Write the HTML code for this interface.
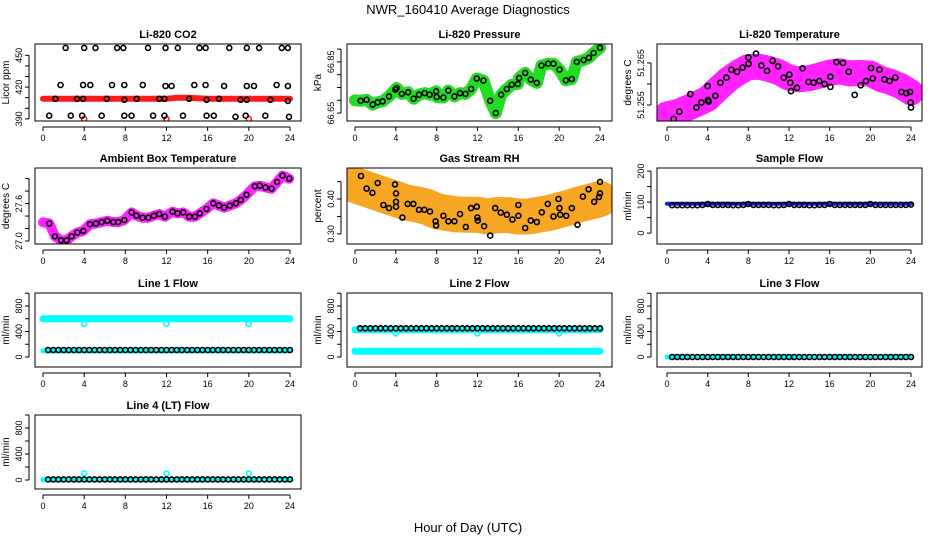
<!DOCTYPE html>
<html><head><meta charset="utf-8"><title>NWR_160410 Average Diagnostics</title>
<style>
html,body{margin:0;padding:0;background:#fff;}
svg{display:block;font-family:"Liberation Sans",Arial,sans-serif;}
</style></head>
<body>
<svg id="chart" width="936" height="540" viewBox="0 0 936 540" xmlns="http://www.w3.org/2000/svg">
<rect width="936" height="540" fill="#fff"/>
<text x="468" y="14" text-anchor="middle" font-size="13">NWR_160410  Average Diagnostics</text>
<text x="468" y="532" text-anchor="middle" font-size="13">Hour of Day (UTC)</text>
<g id="panels"></g>
</svg>
<script>
// ---- shared x data ----
const halfHours = [0.5,1,1.5,2,2.5,3,3.5,4,4.5,5,5.5,6,6.5,7,7.5,8,8.5,9,9.5,10,10.5,11,11.5,12,12.5,13,13.5,14,14.5,15,15.5,16,16.5,17,17.5,18,18.5,19,19.5,20,20.5,21,21.5,22,22.5,23,23.5,24];
const xTicks = [0,4,8,12,16,20,24];
const calHours = [4,12,20];

// ---- CO2 ----
const co2Hours = [2.2,4.0,5.1,7.2,7.8,10.2,11.9,13.1,15.2,15.8,18.1,19.8,21.0,23.2,23.8,
 1.7,3.9,4.6,6.7,7.9,9.7,11.9,12.5,14.7,15.8,17.6,19.8,20.5,22.7,23.8,
 1.2,3.3,3.9,6.2,7.9,9.1,11.3,11.8,14.2,15.9,17.1,19.2,19.8,22.1,23.8,
 0.6,2.7,3.8,5.7,7.9,8.6,10.7,11.8,13.6,15.9,16.6,18.7,19.7,21.6,23.9];
const co2Values = [457,457,457,457,457,457,457,457,457,457,457,457,457,457,457,
 422,422,422,422,422,422,421,421,422,422,421,421,421,422,421,
 409,409,409,409,408,409,409,409,409,408,409,408,408,408,407,
 393,393,393,393,393,393,393,393,393,393,393,392,393,393,392];
const co2BandHours = [0,4,8,12,13,14,16,20,24];
const co2BandValues = [409,409,409,409,410,410,409,409,409];
const co2CalValues = [390,390,390];

// ---- Pressure ----
const presHours = [0.56,1.14,1.73,2.22,2.71,3.33,3.95,4.08,4.58,5.2,5.75,6.27,6.83,7.32,7.94,8.0,8.66,9.15,9.74,10.29,10.82,11.37,11.93,12.58,13.24,13.79,14.31,14.87,15.36,15.95,16.08,16.67,17.22,17.81,18.27,18.92,19.44,20.03,20.65,21.24,21.73,22.39,22.91,23.37,24.0];
const presValues = [66.698,66.702,66.683,66.692,66.696,66.715,66.742,66.748,66.725,66.731,66.706,66.722,66.728,66.722,66.735,66.713,66.711,66.738,66.715,66.728,66.725,66.744,66.785,66.777,66.698,66.65,66.722,66.744,66.761,66.764,66.787,66.807,66.781,66.768,66.836,66.843,66.843,66.82,66.778,66.783,66.85,66.857,66.866,66.885,66.905];

// ---- Li-820 temperature ----
const ltHours = [0.66,1.21,2.3,2.89,3.38,4.0,4.03,4.1,4.75,5.25,5.84,6.33,6.89,7.44,8.0,8.03,8.75,9.28,9.84,10.39,10.92,11.48,12.03,12.13,12.2,12.79,13.34,13.93,14.43,14.98,15.51,16.07,16.07,16.66,17.31,17.87,18.46,19.05,19.57,20.07,20.23,20.89,21.38,21.9,22.46,23.05,23.54,23.9,23.97,24.0];
const ltValues = [51.2517,51.2534,51.2576,51.2544,51.2556,51.2595,51.2562,51.2558,51.2572,51.2603,51.2615,51.2634,51.2629,51.2639,51.2663,51.2648,51.2672,51.2644,51.2631,51.2655,51.2642,51.2615,51.2622,51.2603,51.2583,51.2591,51.2637,51.2605,51.2603,51.2607,51.2600,51.2617,51.2593,51.2652,51.2650,51.2629,51.2574,51.2597,51.2607,51.2638,51.2613,51.2634,51.2611,51.2607,51.2615,51.2581,51.2578,51.2581,51.2556,51.2544];
const ltBandHours = [0,1,2,3,4,5,6,7,8,9,10,11,12,13,14,15,16,17,18,19,20,21,22,23,24];
const ltBandValues = [51.2528,51.2533,51.2543,51.2553,51.2565,51.2588,51.2610,51.2627,51.2640,51.2641,51.2636,51.2628,51.2615,51.2611,51.2614,51.2620,51.2627,51.2630,51.2625,51.2626,51.2625,51.2612,51.2605,51.2595,51.2580];

// ---- Ambient box temperature ----
const ambHours = [0,0.61,1.17,1.75,2.3,2.78,3.33,3.92,4.56,5.15,5.7,6.25,6.83,7.31,7.9,8.61,9.09,9.68,10.23,10.78,11.29,11.84,12.59,13.07,13.62,14.21,14.76,15.24,15.89,16.54,17.09,17.6,18.16,18.74,19.22,19.77,20.58,21.07,21.62,22.2,22.75,23.27,23.92];
const ambValues = [27.30,27.281,27.076,27.011,27.011,27.076,27.135,27.162,27.27,27.281,27.303,27.324,27.303,27.303,27.335,27.459,27.405,27.373,27.373,27.405,27.432,27.389,27.47,27.443,27.459,27.389,27.389,27.443,27.514,27.605,27.568,27.535,27.568,27.605,27.659,27.741,27.876,27.886,27.859,27.838,27.946,28.049,27.999];

// ---- Gas stream RH ----
const rhHours = [0.59,1.14,1.7,2.22,2.78,3.33,3.92,4.02,4.02,4.02,4.64,5.16,5.72,6.27,6.8,7.35,7.9,7.94,8.66,9.15,9.74,10.29,10.85,11.37,11.93,11.99,12.03,12.65,13.24,13.73,14.28,14.87,15.42,16.01,16.01,16.67,17.22,17.81,18.3,18.89,19.44,19.93,20.03,20.1,20.69,21.24,21.8,22.32,22.88,23.43,24.0,24.0,23.9];
const rhValues = [0.466,0.430,0.418,0.446,0.383,0.374,0.442,0.416,0.392,0.378,0.347,0.386,0.386,0.369,0.369,0.364,0.336,0.324,0.352,0.336,0.336,0.357,0.320,0.374,0.378,0.347,0.338,0.322,0.295,0.374,0.361,0.355,0.341,0.383,0.352,0.317,0.338,0.334,0.362,0.386,0.350,0.400,0.374,0.355,0.352,0.374,0.326,0.407,0.428,0.392,0.449,0.416,0.406];
const rhBandHours = [0,1,2,3,4,5,6,7,8,9,10,11,12,13,14,15,16,17,18,19,20,21,22,23,24];
const rhBandValues = [0.44,0.43,0.42,0.41,0.40,0.39,0.385,0.378,0.365,0.36,0.356,0.355,0.355,0.35,0.354,0.354,0.35,0.35,0.355,0.36,0.368,0.375,0.385,0.392,0.40];

// ---- Flows ----
const sampleBlack = [90,90,90,90,90,90,91,94,91,91,91,91,90,90,91,94,91,91,91,91,90,90,91,94,91,91,91,90,90,91,91,94,91,91,91,91,91,91,91,94,91,91,91,91,91,91,91,92];
const sampleBlue = [95,95];
const line1Black = [110,110,110,110,110,110,110,110,110,110,110,110,110,110,110,110,110,110,110,110,110,110,110,110,110,110,110,110,110,110,110,110,110,110,110,110,110,110,110,110,110,110,110,110,110,110,110,110];
const line1Cyan = [600,600];
const line1Low = [95,95];
const line1Cal = [520,520,520];
const line2Black = [450,450,450,450,450,450,450,450,450,450,450,450,450,450,450,450,450,450,450,450,450,450,450,450,450,450,450,450,450,450,450,450,450,450,450,450,450,450,450,450,450,450,450,450,450,450,450,450];
const line2CyanHigh = [430,430];
const line2CyanLow = [90,90];
const line2Cal = [370,370,370];
const line3Black = [0,0,0,0,0,0,0,0,0,0,0,0,0,0,0,0,0,0,0,0,0,0,0,0,0,0,0,0,0,0,0,0,0,0,0,0,0,0,0,0,0,0,0,0,0,0,0,0];
const line4Black = [10,10,10,10,10,10,10,10,10,10,10,10,10,10,10,10,10,10,10,10,10,10,10,10,10,10,10,10,10,10,10,10,10,10,10,10,10,10,10,10,10,10,10,10,10,10,10,10];
const line4Cal = [100,100,100];
const bandEnds = [0,24];

const NS = "http://www.w3.org/2000/svg";
const root = document.getElementById('panels');
function el(tag, attrs, parent){
  const e = document.createElementNS(NS, tag);
  for (const k in attrs) e.setAttribute(k, attrs[k]);
  (parent||root).appendChild(e);
  return e;
}
const cols = [{l:35,r:301,x0:43,x24:290},{l:347,r:612,x0:355,x24:600},{l:657,r:922,x0:667,x24:911}];
const rows = [{t:44,b:121},{t:168,b:244},{t:293,b:367},{t:415,b:489}];

function makePanel(name, title, ylab, c, r, ymin, ymax, ticks, labels, fmt){
  const C = cols[c], R = rows[r];
  const g = el('g', {});
  
  
  const xs = h => C.x0 + (C.x24 - C.x0) * h / 24;
  const ys = v => R.b - (R.b - R.t) * (v - ymin) / (ymax - ymin);
  const clipId = 'clip-' + name;
  const cp = el('clipPath', {id: clipId}, g);
  el('rect', {x:C.l, y:R.t, width:C.r-C.l, height:R.b-R.t}, cp);
  const plot = el('g', {'clip-path':'url(#'+clipId+')'}, g);
  
  
  const frame = el('rect', {x:C.l, y:R.t, width:C.r-C.l, height:R.b-R.t, fill:'none', stroke:'#000', 'stroke-width':1}, g);
  
  
  const tt = el('text', {x:(C.l+C.r)/2, y:R.t-6, 'text-anchor':'middle', 'font-size':11, 'font-weight':'bold'}, g);
  tt.textContent = title;
  
  
  const xa = el('g', {}, g);
  
  
  const xb = R.b + 6;
  el('line', {x1:xs(0), x2:xs(24), y1:xb, y2:xb, stroke:'#000'}, xa);
  xTicks.forEach(t => {
    el('line', {x1:xs(t), x2:xs(t), y1:xb, y2:xb+4, stroke:'#000'}, xa);
    const tl = el('text', {x:xs(t), y:xb+14, 'text-anchor':'middle', 'font-size':9}, xa);
    tl.textContent = t;
    
    
  });
  const ya = el('g', {}, g);
  
  
  const yx = C.l - 6;
  const vt = ticks.filter(t => ys(t) >= R.t - 8 && ys(t) <= R.b + 8);
  el('line', {x1:yx, x2:yx, y1:ys(vt[0]), y2:ys(vt[vt.length-1]), stroke:'#000'}, ya);
  vt.forEach(t => el('line', {x1:yx-4, x2:yx, y1:ys(t), y2:ys(t), stroke:'#000'}, ya));
  labels.forEach(t => {
    const tl = el('text', {x:0, y:0, 'text-anchor':'middle', 'font-size':9, transform:'translate('+(yx-7)+','+ys(t)+') rotate(-90)'}, ya);
    tl.textContent = fmt ? fmt(t) : t;
    
    
  });
  const yl = el('text', {x:0, y:0, 'text-anchor':'middle', 'font-size':10, transform:'translate('+(C.l-26)+','+((R.t+R.b)/2)+') rotate(-90)'}, g);
  yl.textContent = ylab;
  
  
  return {plot, xs, ys};
}
function band(p, hours, vals, color, w, name){
  const pts = hours.map((h,i) => p.xs(h).toFixed(1)+','+p.ys(vals[i]).toFixed(1)).join(' ');
  const pl = el('polyline', {points:pts, fill:'none', stroke:color, 'stroke-width':w, 'stroke-linejoin':'round', 'stroke-linecap':'round'}, p.plot);
  
  
}
function pts(p, hours, vals, color, rad, name){
  hours.forEach((h,i) => {
    const c = el('circle', {cx:p.xs(h).toFixed(1), cy:p.ys(vals[i]).toFixed(1), r:rad, fill:'none', stroke:color, 'stroke-width':1.6}, p.plot);
    
    
  });
}
const f2 = v => v.toFixed(2), f3 = v => v.toFixed(3), f1 = v => v.toFixed(1);

let p = makePanel('co2', 'Li-820 CO2', 'Licor ppm', 0, 0, 388, 460.7, [390,400,410,420,430,440,450], [390,420,450]);
band(p, co2BandHours, co2BandValues, '#ff1a1a', 6, 'co2-red-band');
pts(p, calHours, co2CalValues, '#ff1a1a', 2.5, 'co2-cal-point');
pts(p, co2Hours, co2Values, '#000', 2.5, 'co2-point');

p = makePanel('pressure', 'Li-820 Pressure', 'kPa', 1, 0, 66.619, 66.92, [66.65,66.70,66.75,66.80,66.85,66.90], [66.65,66.85], f2);
band(p, [0].concat(presHours), [66.70].concat(presValues), '#22dd22', 12, 'pressure-green-band');
pts(p, presHours, presValues, '#000', 2.5, 'pressure-point');

p = makePanel('li-temp', 'Li-820 Temperature', 'degrees C', 2, 0, 51.2512, 51.2695, [51.255,51.260,51.265], [51.255,51.265], f3);
band(p, ltBandHours, ltBandValues, '#ff22ff', 26, 'li-temp-magenta-band');
pts(p, ltHours, ltValues, '#000', 2.6, 'li-temp-point');

p = makePanel('ambient', 'Ambient Box Temperature', 'degrees C', 0, 1, 26.952, 28.17, [27.0,27.2,27.4,27.6,27.8,28.0], [27.0,27.6], f1);
band(p, ambHours, ambValues, '#ff22ff', 10, 'ambient-magenta-band');
pts(p, ambHours.slice(1), ambValues.slice(1), '#000', 2.5, 'ambient-point');

p = makePanel('rh', 'Gas Stream RH', 'percent', 1, 1, 0.271, 0.489, [0.30,0.35,0.40,0.45], [0.30,0.40], f2);
band(p, rhBandHours, rhBandValues, '#f5a623', 36, 'rh-orange-band');
pts(p, rhHours, rhValues, '#000', 2.5, 'rh-point');

p = makePanel('sample-flow', 'Sample Flow', 'ml/min', 2, 1, -35, 210, [0,50,100,150,200], [0,100,200]);
band(p, bandEnds, sampleBlue, '#1a1aff', 4, 'sample-flow-blue-band');
pts(p, halfHours, sampleBlack, '#000', 2.5, 'sample-flow-point');

p = makePanel('line1-flow', 'Line 1 Flow', 'ml/min', 0, 2, -157, 1004, [0,200,400,600,800,1000], [0,400,800]);
band(p, bandEnds, line1Cyan, '#00ffff', 7, 'line1-cyan-band');
band(p, bandEnds, line1Low, '#00ffff', 5, 'line1-cyan-low');
pts(p, calHours, line1Cal, '#00ffff', 2.5, 'line1-cal-point');
pts(p, halfHours, line1Black, '#000', 2.5, 'line1-point');

p = makePanel('line2-flow', 'Line 2 Flow', 'ml/min', 1, 2, -157, 1004, [0,200,400,600,800,1000], [0,400,800]);
band(p, bandEnds, line2CyanHigh, '#00ffff', 7, 'line2-cyan-high');
band(p, bandEnds, line2CyanLow, '#00ffff', 7, 'line2-cyan-low');
pts(p, calHours, line2Cal, '#00ffff', 2.5, 'line2-cal-point');
pts(p, halfHours, line2Black, '#000', 2.5, 'line2-point');

p = makePanel('line3-flow', 'Line 3 Flow', 'ml/min', 2, 2, -157, 1004, [0,200,400,600,800,1000], [0,400,800]);
band(p, bandEnds, [0,0], '#00ffff', 5, 'line3-cyan-band');
pts(p, halfHours, line3Black, '#000', 2.5, 'line3-point');

p = makePanel('line4-flow', 'Line 4 (LT) Flow', 'ml/min', 0, 3, -138, 1000, [0,200,400,600,800,1000], [0,400,800]);
band(p, bandEnds, [5,5], '#00ffff', 5, 'line4-cyan-band');
pts(p, calHours, line4Cal, '#00ffff', 2.5, 'line4-cal-point');
pts(p, halfHours, line4Black, '#000', 2.5, 'line4-point');
</script>
</body></html>
